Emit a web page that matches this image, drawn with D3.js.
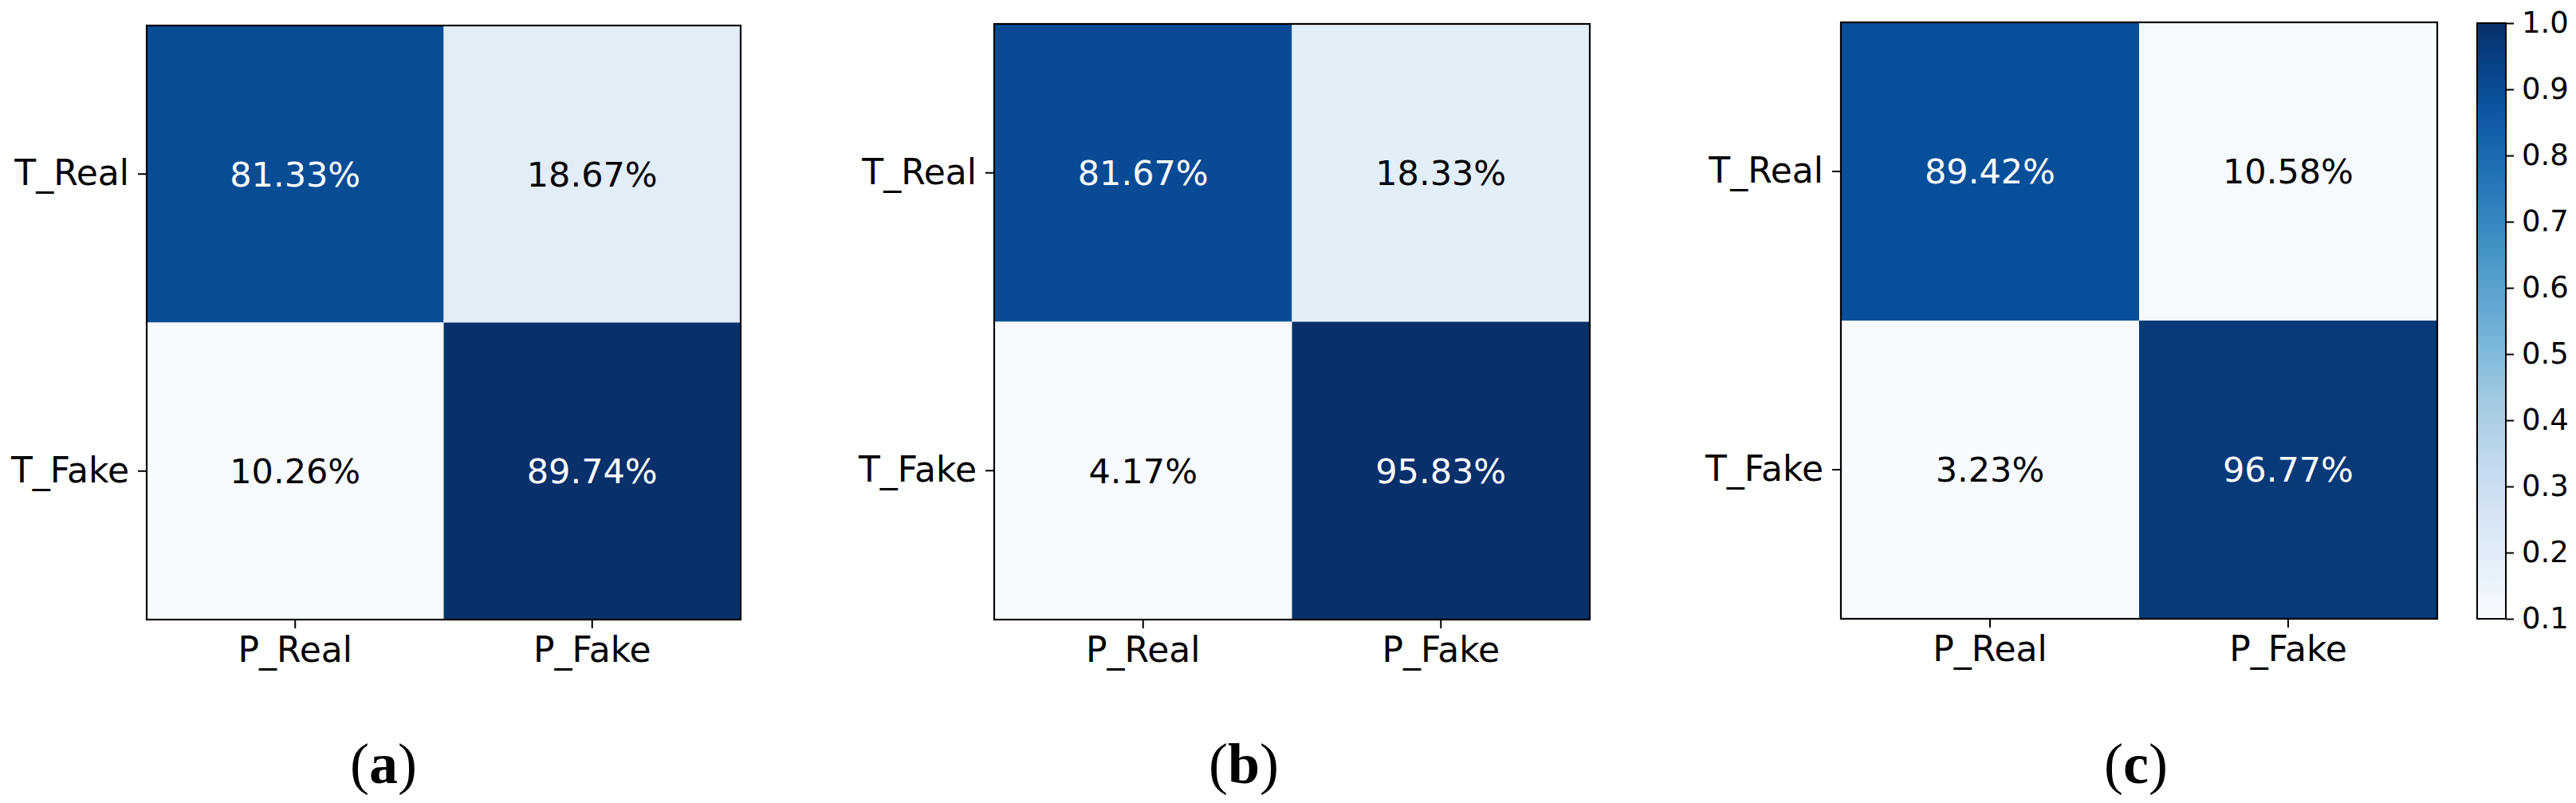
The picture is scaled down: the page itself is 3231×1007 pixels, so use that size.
<!DOCTYPE html>
<html>
<head>
<meta charset="utf-8">
<script src="https://cdn.jsdelivr.net/npm/d3@7"></script>
<style>
  body { margin: 0; background: #fff; }
  svg { display: block; }
</style>
</head>
<body>
<svg width="3231" height="1007"></svg>
<script>
// data
var rowLabels = ["T_Real", "T_Fake"];
var colLabels = ["P_Real", "P_Fake"];
var captions = ["a", "b", "c"];
var matrixA = [[0.8133, 0.1867], [0.1026, 0.8974]];
var matrixB = [[0.8167, 0.1833], [0.0417, 0.9583]];
var matrixC = [[0.8942, 0.1058], [0.0323, 0.9677]];
// colour limits of each panel
var colorLimits = [[0.1026, 0.8974], [0.10, 0.90], [0.10, 1.0]];
var colorbarTicks = [0.1, 0.2, 0.3, 0.4, 0.5, 0.6, 0.7, 0.8, 0.9, 1.0];

var matrices = [matrixA, matrixB, matrixC];

// layout of each panel (left, top, size) and caption x
var panels = [
  { left: 184, top: 32, size: 745, capX: 481 },
  { left: 1247, top: 30, size: 747, capX: 1560 },
  { left: 2309, top: 28, size: 748, capX: 2679 }
];

// matplotlib "Blues"
var blues = d3.piecewise(d3.interpolateRgb, [
  "#f7fbff", "#deebf7", "#c6dbef", "#9ecae1", "#6baed6",
  "#4292c6", "#2171b5", "#08519c", "#08306b"
]);

var svg = d3.select("svg");
svg.append("rect").attr("width", 3231).attr("height", 1007).attr("fill", "#fff");

var tickFont = "'DejaVu Sans', sans-serif";

matrices.forEach(function (m, i) {
  var p = panels[i];
  var cells = [];
  m.forEach(function (row, r) {
    row.forEach(function (v, c) {
      cells.push({ row: rowLabels[r], col: colLabels[c], value: v });
    });
  });

  var x = d3.scaleBand().domain(colLabels).range([p.left, p.left + p.size]);
  var y = d3.scaleBand().domain(rowLabels).range([p.top, p.top + p.size]);
  var color = d3.scaleSequential(blues).domain(colorLimits[i]).clamp(true);

  var g = svg.append("g");

  g.selectAll("rect.cell")
    .data(cells)
    .enter()
    .append("rect")
    .attr("class", "cell")
    .attr("x", (d) => x(d.col))
    .attr("y", (d) => y(d.row))
    .attr("width", x.bandwidth())
    .attr("height", y.bandwidth())
    .attr("fill", (d) => color(d.value));

  g.selectAll("text.val")
    .data(cells)
    .enter()
    .append("text")
    .attr("class", "val")
    .attr("x", (d) => x(d.col) + x.bandwidth() / 2)
    .attr("y", (d) => y(d.row) + y.bandwidth() / 2)
    .attr("dy", "0.36em")
    .attr("text-anchor", "middle")
    .style("font-family", tickFont)
    .style("font-size", "43px")
    .attr("fill", (d) => (d.value > 0.5 ? "#fff" : "#000"))
    .text((d) => (d.value * 100).toFixed(2) + "%");

  // frame
  g.append("rect")
    .attr("x", p.left)
    .attr("y", p.top)
    .attr("width", p.size)
    .attr("height", p.size)
    .attr("fill", "none")
    .attr("stroke", "#000")
    .attr("stroke-width", 2.2);

  var yAxis = g.append("g")
    .attr("transform", "translate(" + p.left + ",0)")
    .call(d3.axisLeft(y).tickSize(11).tickPadding(11));
  var xAxis = g.append("g")
    .attr("transform", "translate(0," + (p.top + p.size) + ")")
    .call(d3.axisBottom(x).tickSize(11).tickPadding(11));

  [xAxis, yAxis].forEach(function (a) {
    a.select(".domain").remove();
    a.selectAll("line").attr("stroke", "#000").attr("stroke-width", 2);
    a.selectAll("text")
      .attr("fill", "#000")
      .style("font-family", tickFont)
      .style("font-size", "44px");
  });

  // caption (a), (b), (c)
  var cap = svg.append("text")
    .attr("x", p.capX)
    .attr("y", 982)
    .attr("text-anchor", "middle")
    .style("font-family", "'Liberation Serif', serif")
    .style("font-size", "72px")
    .attr("fill", "#000");
  cap.append("tspan").text("(");
  cap.append("tspan").style("font-weight", "bold").text(captions[i]);
  cap.append("tspan").text(")");
});

// colorbar
var cb = { left: 3107, width: 36, top: 29, bottom: 776 };
var cbScale = d3.scaleLinear().domain([0.1, 1.0]).range([cb.bottom, cb.top]);

var grad = svg.append("defs")
  .append("linearGradient")
  .attr("id", "cbgrad")
  .attr("x1", 0).attr("y1", 1)
  .attr("x2", 0).attr("y2", 0);
grad.selectAll("stop")
  .data(d3.range(0, 1.0001, 0.05))
  .enter()
  .append("stop")
  .attr("offset", (d) => d)
  .attr("stop-color", (d) => blues(d));

svg.append("rect")
  .attr("x", cb.left)
  .attr("y", cb.top)
  .attr("width", cb.width)
  .attr("height", cb.bottom - cb.top)
  .attr("fill", "url(#cbgrad)")
  .attr("stroke", "#000")
  .attr("stroke-width", 2);

var cbAxis = svg.append("g")
  .attr("transform", "translate(" + (cb.left + cb.width) + ",0)")
  .call(d3.axisRight(cbScale).tickValues(colorbarTicks).tickFormat(d3.format(".1f")).tickSize(10).tickPadding(10));
cbAxis.select(".domain").remove();
cbAxis.selectAll("line").attr("stroke", "#000").attr("stroke-width", 2);
cbAxis.selectAll("text")
  .attr("fill", "#000")
  .style("font-family", tickFont)
  .style("font-size", "37px");
</script>
</body>
</html>
